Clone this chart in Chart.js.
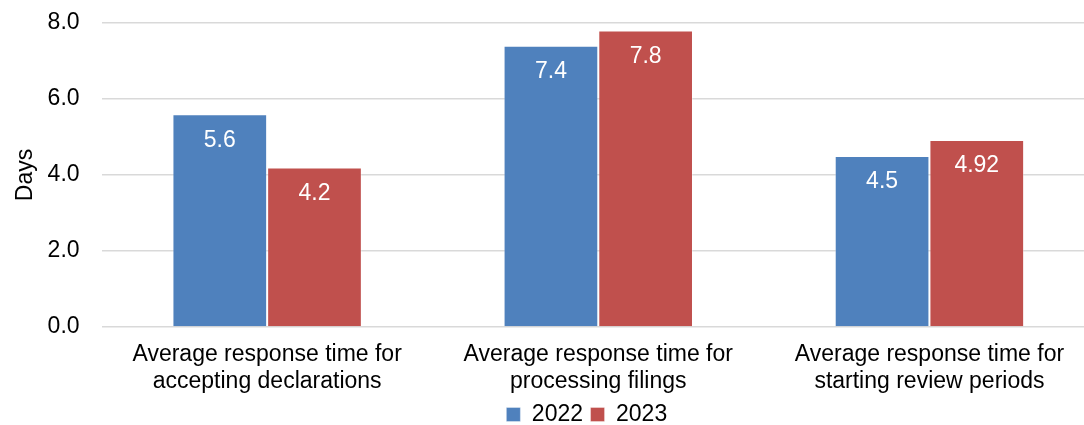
<!DOCTYPE html>
<html>
<head>
<meta charset="utf-8">
<script src="https://cdn.jsdelivr.net/npm/chart.js@4/dist/chart.umd.min.js"></script>
<style>
html,body{margin:0;padding:0;background:#fff;overflow:hidden;}
#wrap{width:1084px;height:425px;position:relative;}
</style>
</head>
<body>
<div id="wrap"><canvas id="c" width="1084" height="425"></canvas></div>
<script>
const categories = [
  ["Average response time for", "accepting declarations"],
  ["Average response time for", "processing filings"],
  ["Average response time for", "starting review periods"]
];
const seriesNames = ["2022", "2023"];
const values2022 = [5.6, 7.4, 4.5];
const values2023 = [4.2, 7.8, 4.92];
const labels2022 = ["5.6", "7.4", "4.5"];
const labels2023 = ["4.2", "7.8", "4.92"];
const yTicks = [0, 2, 4, 6, 8];

const FONT = "'Liberation Sans', Arial, sans-serif";
const FS = 23;

// The original plot area runs slightly past the right edge of the image (cropped),
// so the category axis is extended beyond the canvas edge.
const extendPlotPlugin = {
  id: 'extendPlot',
  afterLayout(chart) {
    const x = chart.scales.x;
    x.right = x.right + 11;
    x.width = x.right - x.left;
    x.configure();
    const lg = chart.legend;
    if (lg) { lg.left -= 6; lg.right -= 6; }
  }
};

const valueLabelPlugin = {
  id: 'valueLabels',
  afterDatasetsDraw(chart) {
    const ctx = chart.ctx;
    ctx.save();
    ctx.fillStyle = '#ffffff';
    ctx.font = FS + "px " + FONT;
    ctx.textAlign = 'center';
    ctx.textBaseline = 'middle';
    chart.data.datasets.forEach((ds, i) => {
      const meta = chart.getDatasetMeta(i);
      meta.data.forEach((bar, j) => {
        ctx.fillText(ds.valueText[j], bar.x, bar.y + 26);
      });
    });
    ctx.restore();
  }
};

new Chart(document.getElementById('c'), {
  type: 'bar',
  data: {
    labels: categories,
    datasets: [
      { label: seriesNames[0], data: values2022, valueText: labels2022,
        backgroundColor: '#4F81BD', borderColor: 'rgba(255,255,255,0.35)', borderWidth: 1, borderSkipped: 'bottom' },
      { label: seriesNames[1], data: values2023, valueText: labels2023,
        backgroundColor: '#C0504D', borderColor: 'rgba(255,255,255,0.35)', borderWidth: 1, borderSkipped: 'bottom' }
    ]
  },
  options: {
    responsive: false,
    animation: false,
    devicePixelRatio: 1,
    layout: { padding: { left: 0, right: 0, top: 23, bottom: -11 } },
    datasets: { bar: { categoryPercentage: 0.572, barPercentage: 1.0 } },
    scales: {
      x: {
        grid: { display: false, drawTicks: false },
        border: { display: false },
        ticks: { color: '#000', font: { family: FONT, size: FS, lineHeight: 1.174 }, padding: 14.5, maxRotation: 0, autoSkip: false },
        afterFit(scale) { scale.height = 14.5 + 2 * FS * 1.174; }
      },
      y: {
        min: 0, max: 8,
        afterBuildTicks(scale) { scale.ticks = yTicks.map(v => ({ value: v })); },
        grid: { color: '#D9D9D9', lineWidth: 1.5, drawTicks: true, tickLength: 20, tickColor: 'rgba(0,0,0,0)' },
        border: { display: false },
        ticks: { color: '#000', font: { family: FONT, size: FS }, padding: 2, callback: v => Number(v).toFixed(1) },
        title: { display: true, text: 'Days', color: '#000', font: { family: FONT, size: FS }, padding: { top: 12, bottom: 6 } }
      }
    },
    plugins: {
      legend: {
        position: 'bottom',
        fullSize: false,
        labels: { color: '#000', font: { family: FONT, size: FS }, boxWidth: 14, boxHeight: 14, padding: 7.5 }
      },
      tooltip: { enabled: false }
    }
  },
  plugins: [extendPlotPlugin, valueLabelPlugin]
});
</script>
</body>
</html>
